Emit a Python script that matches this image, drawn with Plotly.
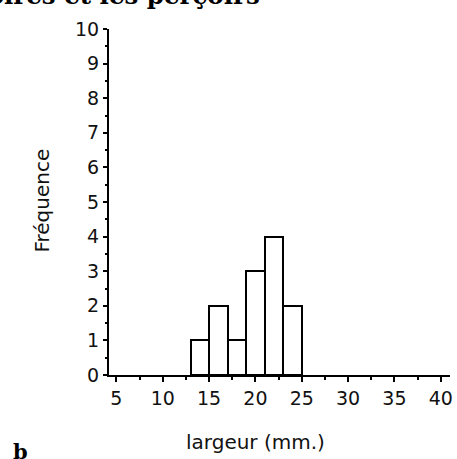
import plotly.graph_objects as go

# Data: histogram bins (left edge, width 2 mm) and frequencies
bin_left = [13, 15, 17, 19, 21, 23]
bin_width = 2
frequencies = [1, 2, 1, 3, 4, 2]
x_ticks = [5, 10, 15, 20, 25, 30, 35, 40]
y_ticks = [0, 1, 2, 3, 4, 5, 6, 7, 8, 9, 10]

centers = [b + bin_width / 2 for b in bin_left]

W, H = 457, 459
L, R, T, B = 109, 4, 29, 84
PW, PH = W - L - R, H - T - B


def px(xp):
    return (xp - L) / PW


def py(yp):
    return (H - B - yp) / PH


fig = go.Figure()
fig.add_trace(go.Bar(
    x=centers, y=frequencies, width=[bin_width] * len(centers),
    marker=dict(color="white", line=dict(color="black", width=2)),
    showlegend=False, hoverinfo="skip",
))

font = dict(family="DejaVu Sans, sans-serif", size=19, color="#111")

fig.update_layout(
    width=W, height=H,
    margin=dict(l=L, r=R, t=T, b=B),
    paper_bgcolor="white", plot_bgcolor="white",
    font=font,
    bargap=0,
    xaxis=dict(
        range=[4.2, 41], tickvals=x_ticks, ticktext=[str(v) for v in x_ticks],
        showline=True, linecolor="black", linewidth=2,
        ticks="outside", ticklen=5, tickwidth=1.5, tickcolor="black",
        minor=dict(dtick=2.5, tick0=0, ticks="outside", ticklen=3, tickwidth=1.5, tickcolor="black"),
        showgrid=False, zeroline=False, fixedrange=True,
    ),
    yaxis=dict(
        range=[0, 10], tickvals=y_ticks, ticktext=[str(v) for v in y_ticks],
        showline=True, linecolor="black", linewidth=2,
        ticks="outside", ticklen=4, tickwidth=1.5, tickcolor="black",
        minor=dict(dtick=0.5, tick0=0, ticks="outside", ticklen=2, tickwidth=1.5, tickcolor="black"),
        showgrid=False, zeroline=False, fixedrange=True,
    ),
)

# Axis titles as annotations for precise placement
fig.add_annotation(text="largeur (mm.)", xref="paper", yref="paper",
                   x=px(257), y=py(442),
                   showarrow=False, font=dict(size=20), xanchor="center", yanchor="middle")
fig.add_annotation(text="Fréquence", xref="paper", yref="paper", textangle=-90,
                   x=px(41), y=py(201),
                   showarrow=False, font=dict(size=20), xanchor="center", yanchor="middle")

# Title (cut off at top) and panel label
fig.add_annotation(text="<b>Les grattoires et les perçoirs</b>", xref="paper", yref="paper",
                   x=px(263), y=py(12),
                   showarrow=False, xanchor="right", yanchor="bottom",
                   font=dict(family="DejaVu Serif, serif", size=24.5, color="black"))
fig.add_annotation(text="<b>b</b>", xref="paper", yref="paper",
                   x=px(20), y=py(437),
                   showarrow=False, xanchor="center", yanchor="top",
                   font=dict(family="DejaVu Serif, serif", size=21, color="black"))

fig.write_html("out.html", config={"displayModeBar": False},
               post_script="document.body.style.margin='0';document.body.style.overflow='hidden';")
